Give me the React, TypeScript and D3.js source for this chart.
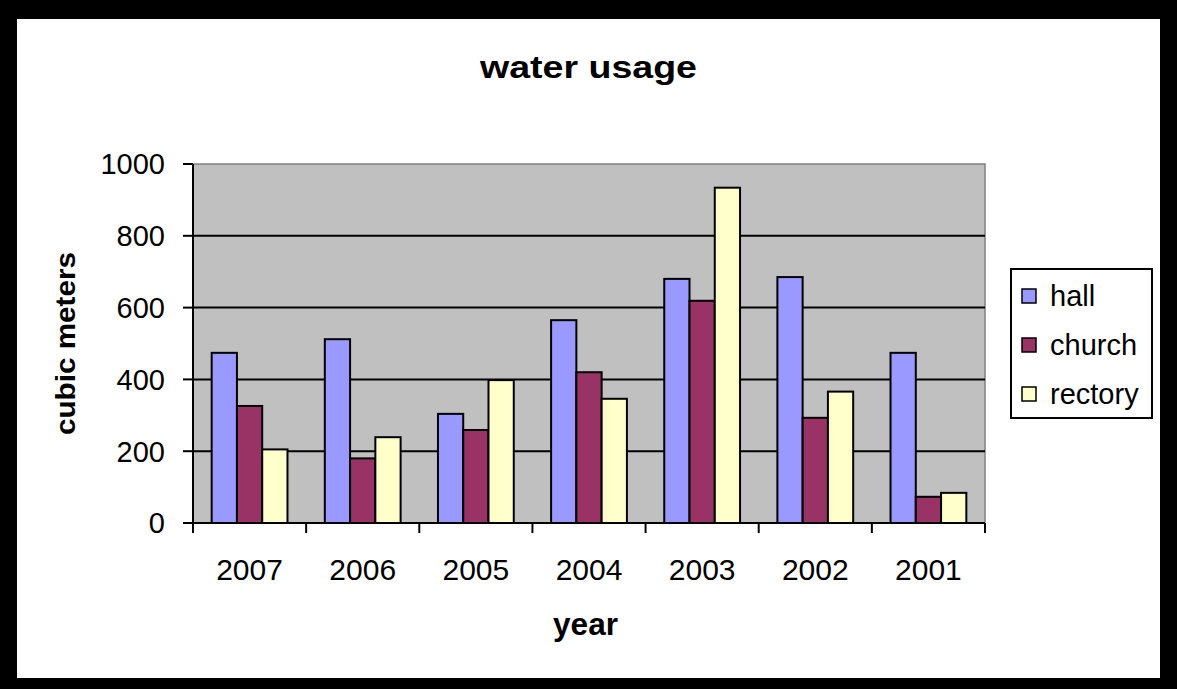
import React from "react";
import * as d3 from "d3";

const years = ["2007", "2006", "2005", "2004", "2003", "2002", "2001"];
const seriesNames = ["hall", "church", "rectory"];
const hall = [474, 512, 304, 565, 680, 685, 474];
const church = [326, 180, 259, 420, 619, 293, 73];
const rectory = [205, 239, 398, 346, 934, 366, 84];
const seriesColors = ["#9999FF", "#993366", "#FFFFCC"];
const yTicks = [0, 200, 400, 600, 800, 1000];

const W = 1177;
const H = 689;
const plot = { left: 193, right: 985, top: 164, bottom: 523 };
const FONT = "'Liberation Sans', Arial, sans-serif";

export default function App() {
  const values = [hall, church, rectory];
  const x0 = d3
    .scaleBand<string>()
    .domain(years)
    .range([plot.left, plot.right])
    .paddingInner(0.33)
    .paddingOuter(0.165);
  const x1 = d3
    .scaleBand<string>()
    .domain(seriesNames)
    .range([0, x0.bandwidth()])
    .padding(0);
  const y = d3.scaleLinear().domain([0, 1000]).range([plot.bottom, plot.top]);
  const step = x0.step();
  const boundaries = d3.range(years.length + 1).map((i) => plot.left + i * step);

  return (
    <svg
      width={W}
      height={H}
      style={{ position: "absolute", left: 0, top: 0, fontFamily: FONT }}
    >
      <rect x={0} y={0} width={W} height={H} fill="#000" />
      <rect x={17} y={19} width={1143} height={659} fill="#fff" />

      <text
        x={588.5}
        y={77.5}
        textAnchor="middle"
        fontWeight="bold"
        fontSize={31}
        textLength={217}
        lengthAdjust="spacingAndGlyphs"
      >
        water usage
      </text>

      {/* plot background */}
      <rect
        x={plot.left}
        y={plot.top}
        width={plot.right - plot.left}
        height={plot.bottom - plot.top}
        fill="#C0C0C0"
        stroke="#808080"
        strokeWidth={1.5}
      />

      {/* gridlines */}
      {yTicks
        .filter((t) => t > 0 && t < 1000)
        .map((t) => (
          <line
            key={"g" + t}
            x1={plot.left}
            x2={plot.right}
            y1={y(t)}
            y2={y(t)}
            stroke="#000"
            strokeWidth={2}
          />
        ))}

      {/* bars */}
      {years.map((yr, i) => (
        <g key={yr} transform={`translate(${x0(yr)},0)`}>
          {seriesNames.map((s, j) => (
            <rect
              key={s}
              x={x1(s)}
              y={y(values[j][i])}
              width={x1.bandwidth()}
              height={y(0) - y(values[j][i])}
              fill={seriesColors[j]}
              stroke="#000"
              strokeWidth={2}
            />
          ))}
        </g>
      ))}

      {/* axes */}
      <line x1={plot.left} x2={plot.left} y1={plot.top} y2={plot.bottom + 10} stroke="#000" strokeWidth={2} />
      <line x1={plot.left - 10} x2={plot.right} y1={plot.bottom} y2={plot.bottom} stroke="#000" strokeWidth={2} />
      {yTicks.map((t) => (
        <g key={"yt" + t}>
          <line x1={plot.left - 10} x2={plot.left} y1={y(t)} y2={y(t)} stroke="#000" strokeWidth={2} />
          <text
            x={165}
            y={y(t)}
            dy="0.36em"
            textAnchor="end"
            fontSize={29}
          >
            {t}
          </text>
        </g>
      ))}
      {boundaries.map((bx, i) => (
        <line key={"xt" + i} x1={bx} x2={bx} y1={plot.bottom} y2={plot.bottom + 10} stroke="#000" strokeWidth={2} />
      ))}
      {years.map((yr) => (
        <text
          key={"xl" + yr}
          x={(x0(yr) as number) + x0.bandwidth() / 2}
          y={580}
          textAnchor="middle"
          fontSize={30}
        >
          {yr}
        </text>
      ))}

      {/* axis titles */}
      <text
        transform={`translate(75,343.5) rotate(-90)`}
        textAnchor="middle"
        fontWeight="bold"
        fontSize={28}
        textLength={183}
        lengthAdjust="spacingAndGlyphs"
      >
        cubic meters
      </text>
      <text
        x={585.5}
        y={635}
        textAnchor="middle"
        fontWeight="bold"
        fontSize={31}
        textLength={65}
        lengthAdjust="spacingAndGlyphs"
      >
        year
      </text>

      {/* legend */}
      <rect x={1011} y={269} width={141} height={149} fill="#fff" stroke="#000" strokeWidth={2} />
      {seriesNames.map((s, j) => (
        <g key={"lg" + s}>
          <rect
            x={1022}
            y={289 + j * 49}
            width={14}
            height={14}
            fill={seriesColors[j]}
            stroke="#000"
            strokeWidth={1.5}
          />
          <text x={1050} y={306 + j * 49} fontSize={29}>
            {s}
          </text>
        </g>
      ))}
    </svg>
  );
}
